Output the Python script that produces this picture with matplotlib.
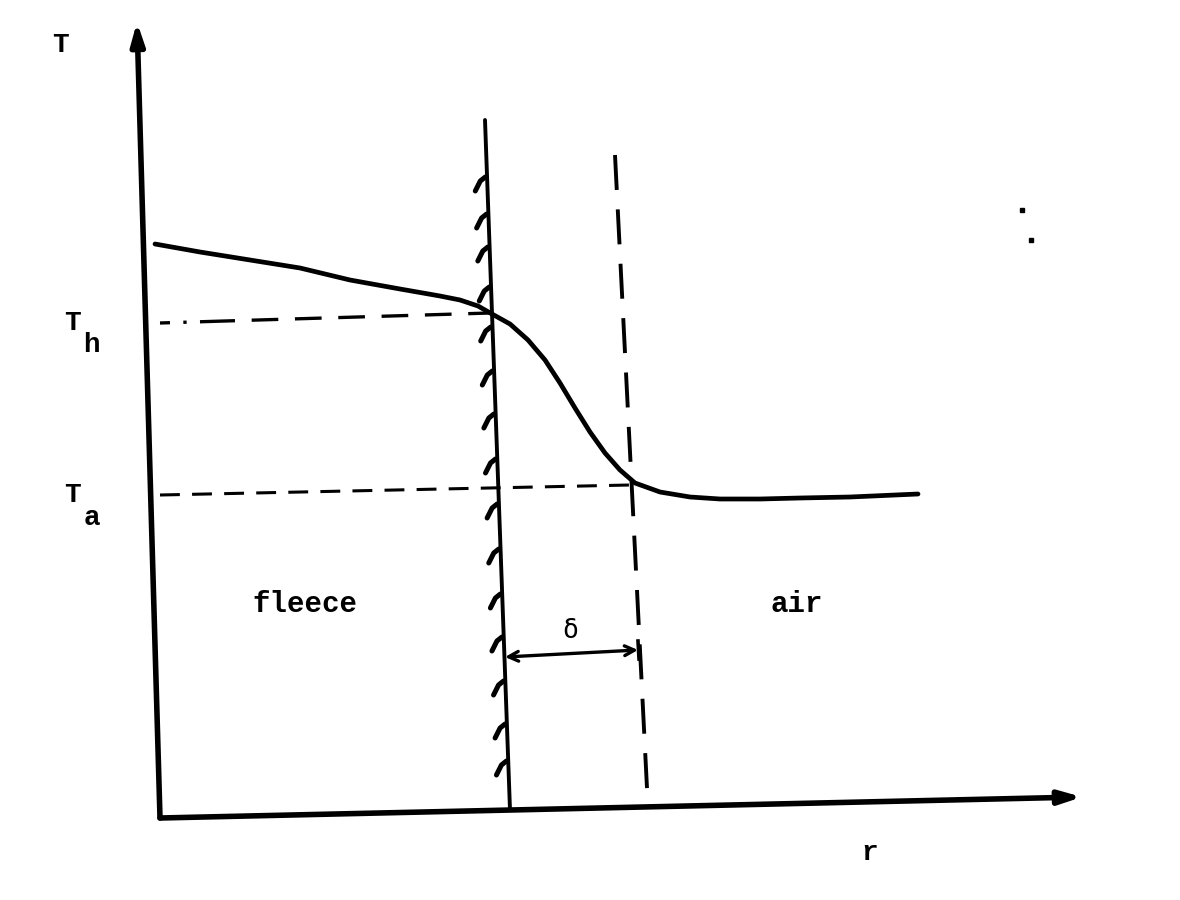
"""
Temperature profile across the fleece / air boundary (schematic).
Drawn in image-pixel coordinates (y grows downward) so it lines up with the scan.
"""

import matplotlib
matplotlib.use("Agg")
import matplotlib.pyplot as plt
import numpy as np

# ── Data (pixel units) ────────────────────────────────────────────────────────

# temperature curve T(r)
curve_r = [155, 200, 250, 300, 350, 400, 440, 460, 478, 492, 510, 528, 545, 560,
           575, 590, 605, 620, 635, 660, 690, 720, 760, 800, 850, 918]
curve_T = [244, 252, 260, 268, 280, 289, 296, 300, 306, 314, 324, 340, 360, 383,
           408, 432, 453, 470, 483, 492, 497, 499, 499, 498, 497, 494]

# axes (start -> arrow tip)
y_axis = ([160, 137], [818, 22])
x_axis = ([160, 1082], [818, 797])

# fleece surface (solid) and boundary-layer edge (dashed)
wall = ([485, 510], [120, 810])
edge = ([615, 648], [155, 808])

# reference levels (Th starts with a short dash-dot run)
Th_lead = ([160, 215], [323, 321.3])
Th_line = ([215, 490], [321.3, 313])
Ta_line = ([160, 630], [495, 485])

# hatch positions along the wall
hatch_y = [183, 220, 253, 293, 333, 377, 420, 465, 510, 555, 600, 643, 687, 730, 767]

# delta dimension arrow
delta_r = [505, 638]
delta_T = [657, 650]

FONT = "Liberation Mono"
INK = "black"

fig = plt.figure(figsize=(11.8, 9), dpi=100, facecolor="white")
ax = fig.add_axes([0, 0, 1, 1])
ax.set_xlim(0, 1180)
ax.set_ylim(900, 0)
ax.axis("off")

# axes with arrow heads
for xs, ys in (y_axis, x_axis):
    ax.annotate("", xy=(xs[1], ys[1]), xytext=(xs[0], ys[0]),
                arrowprops=dict(arrowstyle="-|>,head_length=1.3,head_width=0.4",
                                lw=4.0, color=INK, shrinkA=0, shrinkB=0))

# wall and boundary-layer edge
ax.plot(*wall, color=INK, lw=2.8, solid_capstyle="round")
ax.plot(*edge, color=INK, lw=2.8, linestyle=(0, (9, 5)))

# hatching on the fleece side of the wall
wx0, wx1 = wall[0]
wy0, wy1 = wall[1]
for hy in hatch_y:
    wx = wx0 + (hy - wy0) * (wx1 - wx0) / (wy1 - wy0)
    ax.plot([wx - 12, wx - 7, wx - 2], [hy + 8, hy - 2, hy - 6],
            color=INK, lw=3.6, solid_capstyle="round")

# reference level lines
ax.plot(*Th_lead, color=INK, lw=2.4, linestyle=(0, (3, 4, 1, 4, 6, 20)))
ax.plot(*Th_line, color=INK, lw=2.4, linestyle=(2, (8, 5)))
ax.plot(*Ta_line, color=INK, lw=2.2, linestyle=(0, (6.5, 4)))

# temperature profile
ax.plot(curve_r, curve_T, color=INK, lw=3.4, solid_capstyle="round",
        solid_joinstyle="round")

# delta arrow
ax.annotate("", xy=(delta_r[1], delta_T[1]), xytext=(delta_r[0], delta_T[0]),
            arrowprops=dict(arrowstyle="<->,head_length=0.7,head_width=0.35",
                            lw=2.4, color=INK, shrinkA=0, shrinkB=0))
ax.plot([delta_r[1], delta_r[1] + 1], [delta_T[1] - 9, delta_T[1] + 9], color=INK, lw=2.6)

# labels
tkw = dict(family=FONT, color=INK, fontweight="bold")
ax.text(60, 45, "T", fontsize=20, ha="center", va="center", **tkw)
ax.text(72, 323, "T", fontsize=20, ha="center", va="center", **tkw)
ax.text(91, 345, "h", fontsize=20, ha="center", va="center", **tkw)
ax.text(72, 495, "T", fontsize=20, ha="center", va="center", **tkw)
ax.text(92, 518, "a", fontsize=20, ha="center", va="center", **tkw)
ax.text(305, 604, "fleece", fontsize=21, ha="center", va="center", **tkw)
ax.text(797, 604, "air", fontsize=21, ha="center", va="center", **tkw)
ax.text(570, 631, "δ", fontsize=19, ha="center", va="center", family="DejaVu Sans Mono", color=INK)
ax.text(870, 853, "r", fontsize=20, ha="center", va="center", **tkw)

# stray specks on the scan
ax.plot([1022, 1031], [210, 240], linestyle="none", marker="s", markersize=2.5, color=INK)

fig.savefig("out.png", dpi=100, facecolor="white")
